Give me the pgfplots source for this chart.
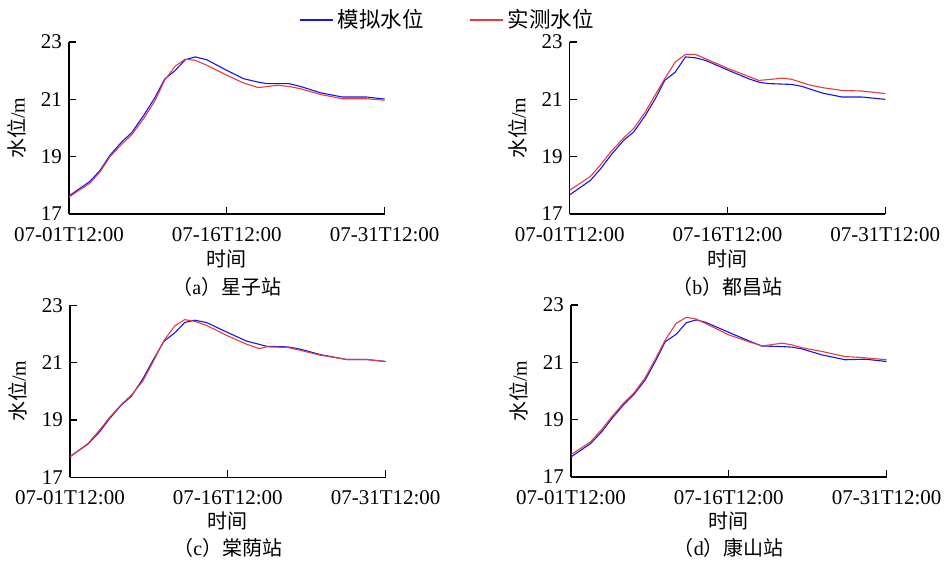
\documentclass[border=0pt]{standalone}
\usepackage{fontspec}
\setmainfont{Liberation Serif}
\newfontfamily\cjk{Noto Sans CJK SC}
\usepackage{pgfplots}
\pgfplotsset{compat=1.18}
\definecolor{simblue}{RGB}{20,20,235}
\definecolor{obsred}{RGB}{228,60,60}
\pgfplotsset{
  wl/.style={
    scale only axis, width=157.8pt, height=86pt,
    xmin=0, xmax=30, ymin=17, ymax=23,
    enlargelimits=false,
    axis x line=bottom, axis y line=left,
    axis line style={-, line width=0.6pt, black},
    tick align=inside, major tick length=3.5pt,
    tick style={black, line width=0.6pt},
    xtick={0,15,30}, xticklabels={07-01T12:00,07-16T12:00,07-31T12:00},
    ytick={17,19,21,23},
    /pgf/number format/assume math mode=true,
    ticklabel style={font=\fontsize{10.5}{12}\selectfont},
    xticklabel style={yshift=-3pt},
    xlabel={时间}, ylabel={水位{\rmfamily/m}},
    label style={font=\cjk\fontsize{10}{12}\selectfont},
    ylabel style={at={(axis description cs:-0.165,0.5)}, anchor=center},
  },
  toprow/.style={xlabel style={at={(axis description cs:0.5,-0.262)}, anchor=center},
    every axis title/.style={at={(axis description cs:0.5,-0.424)}, anchor=center, font=\cjk\fontsize{10}{12}\selectfont}},
  botrow/.style={xlabel style={at={(axis description cs:0.5,-0.256)}, anchor=center},
    every axis title/.style={at={(axis description cs:0.5,-0.413)}, anchor=center, font=\cjk\fontsize{10}{12}\selectfont}},
  sim/.style={simblue, line width=0.55pt, no marks},
  obs/.style={obsred, line width=0.55pt, no marks},
}
\begin{document}
\begin{tikzpicture}
% (a)
\begin{axis}[wl, toprow, at={(34.5pt,-107pt)}, anchor=south west,
  title={（{\rmfamily a}）星子站},
  legend columns=2,
  legend style={at={(axis description cs:1.203,1.128)}, anchor=center, draw=none, fill=none,
    font=\cjk\fontsize{10.75}{12}\selectfont,
    /tikz/every even column/.append style={column sep=21pt}},
  legend image code/.code={\draw[#1] (0pt,0pt) -- (16.5pt,0pt);},
  ]
\addplot[sim] coordinates {(0,17.63) (2,18.14) (2.95,18.52) (3.9,19.05) (5.0,19.51) (5.97,19.84) (7.1,20.44) (8.2,21.08) (9.08,21.70) (10.1,22.01) (11.05,22.38) (12.0,22.48) (13.1,22.38) (15.0,22.01) (16.6,21.72) (18.0,21.60) (18.8,21.55) (20.9,21.55) (22,21.45) (23.9,21.23) (26,21.08) (28.3,21.08) (30,21.01)};
\addlegendentry{模拟水位}
\addplot[obs] coordinates {(0,17.59) (2,18.08) (2.95,18.47) (3.9,19.0) (5.0,19.43) (5.97,19.77) (7.1,20.33) (8.2,20.97) (9.08,21.66) (10.1,22.16) (11.05,22.40) (12.0,22.36) (13.1,22.19) (15.0,21.84) (16.6,21.57) (18.0,21.41) (19.8,21.49) (20.9,21.45) (22,21.37) (23.9,21.17) (26,21.02) (28.3,21.02) (30,20.97)};
\addlegendentry{实测水位}
\end{axis}
% (b)
\begin{axis}[wl, toprow, at={(284.85pt,-107pt)}, anchor=south west,
  title={（{\rmfamily b}）都昌站}]
\addplot[sim] coordinates {(0,17.67) (1.96,18.17) (2.9,18.56) (4.02,19.10) (5.13,19.57) (6.08,19.86) (7.19,20.44) (8.14,21.02) (9.03,21.66) (10.04,21.95) (11.0,22.48) (11.94,22.45) (12.9,22.36) (15.1,22.01) (17.0,21.72) (17.96,21.60) (18.9,21.55) (21.1,21.52) (22.1,21.45) (24.0,21.22) (25.9,21.08) (27.8,21.08) (30,21.0)};
\addplot[obs] coordinates {(0,17.83) (1.96,18.31) (2.9,18.70) (4.02,19.22) (5.13,19.65) (6.08,19.98) (7.19,20.56) (8.14,21.16) (9.03,21.72) (10.04,22.30) (11.0,22.57) (11.94,22.57) (12.9,22.42) (15.1,22.07) (17.0,21.80) (17.96,21.66) (18.9,21.69) (20.2,21.74) (21.1,21.70) (22.7,21.51) (24.0,21.41) (25.9,21.31) (27.8,21.29) (30,21.20)};
\end{axis}
% (c)
\begin{axis}[wl, botrow, at={(35pt,-238.65pt)}, anchor=south west,
  title={（{\rmfamily c}）棠荫站}]
\addplot[sim] coordinates {(0,17.72) (1.71,18.16) (2.82,18.59) (3.77,19.05) (4.88,19.52) (5.84,19.83) (6.95,20.45) (7.9,21.09) (8.94,21.75) (9.96,22.04) (10.9,22.40) (11.86,22.48) (12.97,22.40) (15.0,22.05) (16.8,21.75) (18.7,21.57) (20.7,21.55) (21.9,21.47) (23.8,21.28) (26.3,21.11) (28.2,21.11) (30,21.04)};
\addplot[obs] coordinates {(0,17.72) (1.71,18.18) (2.82,18.65) (3.77,19.09) (4.88,19.54) (5.84,19.87) (6.95,20.37) (7.9,21.03) (8.94,21.78) (9.96,22.28) (10.9,22.50) (11.86,22.44) (12.97,22.30) (15.0,21.93) (16.8,21.64) (18.0,21.49) (18.7,21.55) (20.7,21.53) (21.9,21.43) (23.8,21.26) (26.3,21.11) (28.2,21.11) (30,21.04)};
\end{axis}
% (d)
\begin{axis}[wl, botrow, at={(285.5pt,-238.5pt)}, anchor=south west,
  title={（{\rmfamily d}）康山站}]
\addplot[sim] coordinates {(0,17.70) (1.84,18.16) (2.95,18.59) (3.9,19.05) (5.0,19.52) (5.96,19.87) (7.06,20.39) (8.01,21.03) (8.96,21.72) (10.0,21.98) (10.96,22.38) (11.9,22.48) (12.77,22.40) (14.98,22.05) (16.9,21.75) (18.15,21.57) (20.05,21.55) (21.0,21.53) (21.95,21.47) (23.85,21.26) (26.07,21.09) (27.97,21.11) (30,21.03)};
\addplot[obs] coordinates {(0,17.78) (1.84,18.22) (2.95,18.67) (3.9,19.11) (5.0,19.58) (5.96,19.92) (7.06,20.47) (8.01,21.11) (8.96,21.78) (10.0,22.36) (10.96,22.57) (11.9,22.51) (12.77,22.36) (14.98,21.96) (16.9,21.72) (18.15,21.57) (20.05,21.67) (21.0,21.61) (21.95,21.51) (23.85,21.38) (26.07,21.20) (27.6,21.17) (30,21.09)};
\end{axis}
\pgfresetboundingbox
\path[use as bounding box] (0,0) rectangle (472pt,-281pt);
\end{tikzpicture}
\end{document}
